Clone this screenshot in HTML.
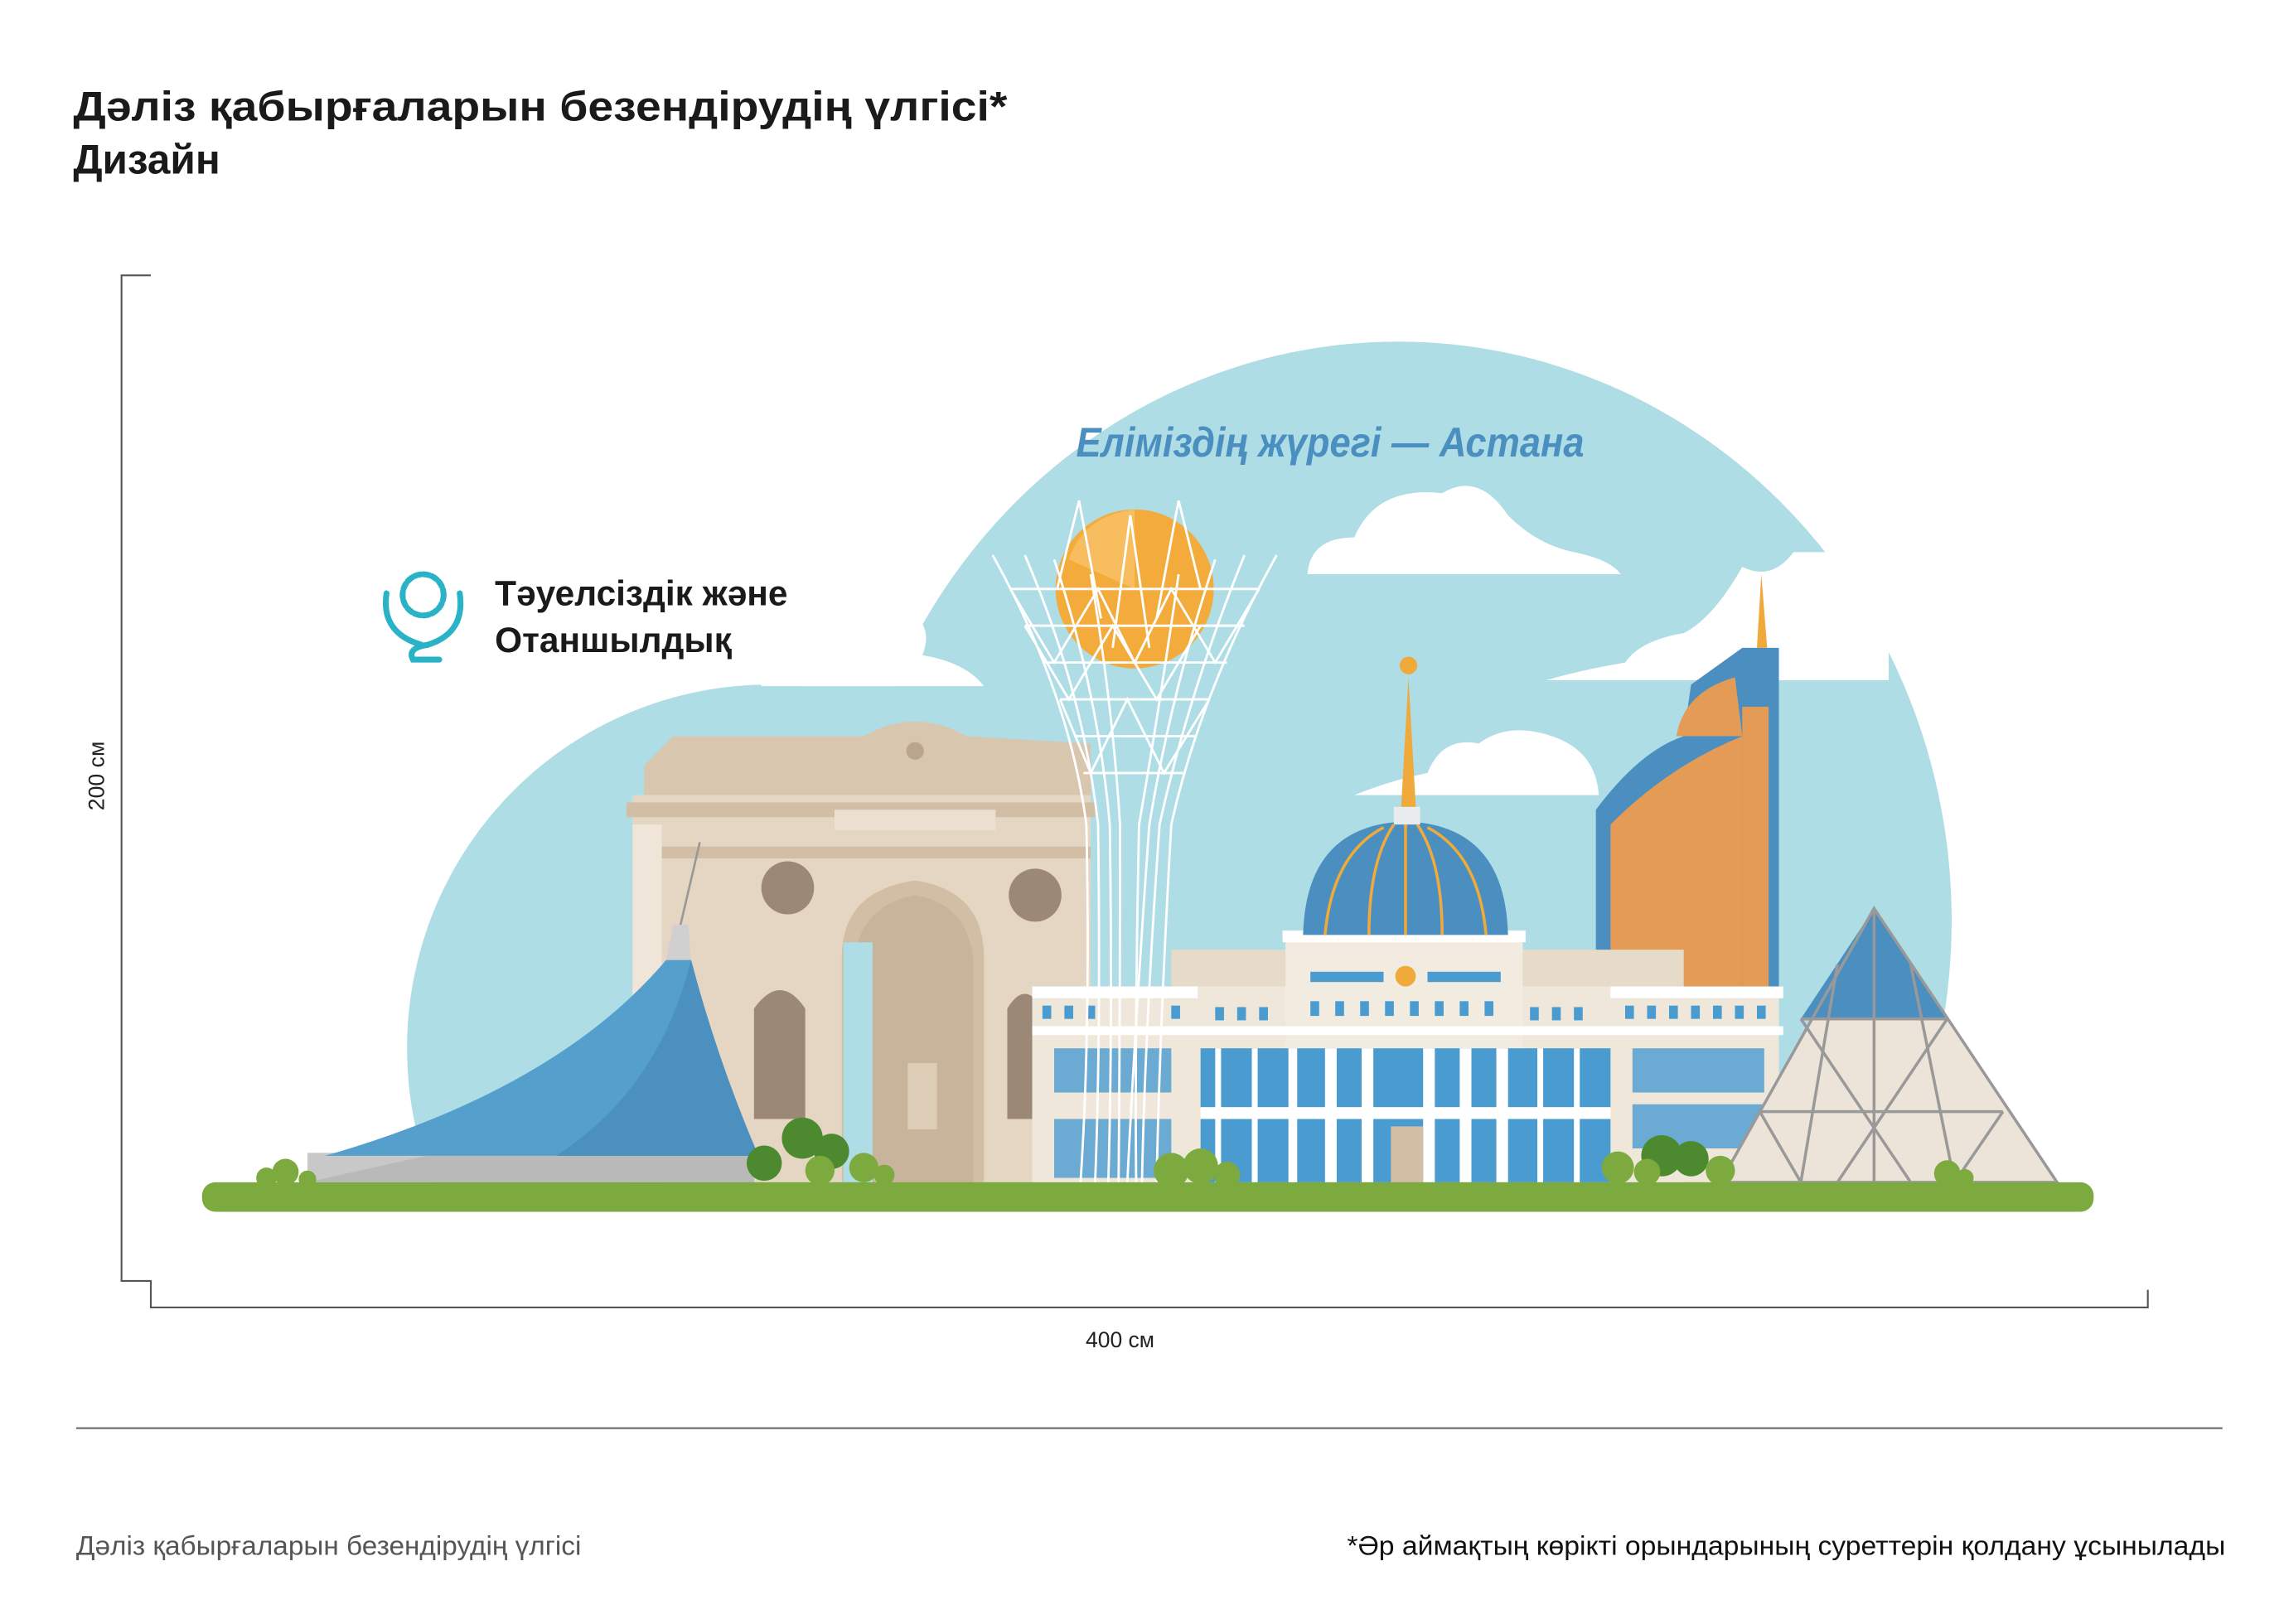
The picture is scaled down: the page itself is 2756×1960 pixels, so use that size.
<!DOCTYPE html>
<html><head><meta charset="utf-8"><style>
html,body{margin:0;padding:0;background:#fff}
svg{display:block}
text{font-family:"Liberation Sans",sans-serif}
</style></head><body>
<svg width="2756" height="1960" viewBox="0 0 1560 1103" preserveAspectRatio="none" xmlns="http://www.w3.org/2000/svg">
<defs><clipPath id="c"><rect x="0" y="0" width="1560" height="805"/></clipPath></defs>
<rect width="1560" height="1103" fill="#fff"/>
<!-- header -->
<text x="50" y="82" font-size="28" font-weight="bold" fill="#1a1a1a" textLength="638" lengthAdjust="spacingAndGlyphs">Дәліз қабырғаларын безендірудің үлгісі*</text>
<text x="50" y="118" font-size="28" font-weight="bold" fill="#1a1a1a">Дизайн</text>
<!-- dimension lines -->
<path d="M103 187 H83 V870 H103 V888 H1467 V876" fill="none" stroke="#555" stroke-width="1.2"/>
<text x="0" y="0" font-size="15" fill="#222" transform="translate(71,527) rotate(-90)" text-anchor="middle">200 см</text>
<text x="765" y="915" font-size="15" fill="#222" text-anchor="middle">400 см</text>
<line x1="52" y1="970" x2="1518" y2="970" stroke="#777" stroke-width="1.3"/>
<text x="52" y="1056" font-size="18.5" fill="#555" textLength="345" lengthAdjust="spacingAndGlyphs">Дәліз қабырғаларын безендірудің үлгісі</text>
<text x="920" y="1056" font-size="18.5" fill="#111" textLength="600" lengthAdjust="spacingAndGlyphs">*Әр аймақтың көрікті орындарының суреттерін қолдану ұсынылады</text>

<!-- sky -->
<g fill="#aedde6" clip-path="url(#c)">
<ellipse cx="955" cy="625" rx="378" ry="393"/>
<circle cx="525" cy="712" r="247"/>
<rect x="1090" y="462" width="195" height="341"/>
<rect x="520" y="466" width="460" height="337"/>
</g>
<!-- clouds -->
<g fill="#fff">
<path d="M560 390 Q600 370 610 410 Q640 420 630 445 Q660 450 672 466 L520 466 L520 390 Z"/>
<path d="M893 390 Q895 365 925 365 Q940 330 985 335 Q1010 320 1030 350 Q1050 370 1075 375 Q1100 380 1107 390 Z"/>
<path d="M1225 375 Q1210 395 1190 385 Q1170 420 1150 430 Q1120 435 1110 450 Q1080 455 1056 462 L1290 462 L1290 375 Z"/>
<path d="M925 540 Q950 530 975 525 Q985 500 1010 505 Q1030 490 1060 500 Q1090 510 1092 540 Z"/>
</g>
<!-- logo -->
<g fill="none" stroke="#2ab3c6" stroke-width="4" stroke-linecap="round">
<circle cx="289" cy="404" r="14" stroke-dasharray="4 2"/>
<path d="M264 403 Q260 430 288 438"/>
<path d="M314 403 Q318 430 292 438 Q278 440 282 448 L300 448"/>
</g>
<text x="338" y="411" font-size="24" font-weight="bold" fill="#1a1a1a">Тәуелсіздік және</text>
<text x="338" y="443" font-size="24" font-weight="bold" fill="#1a1a1a">Отаншылдық</text>
<text x="735" y="310" font-size="28" font-weight="bold" font-style="italic" fill="#4a8fbf" textLength="347" lengthAdjust="spacingAndGlyphs" font-family="Liberation Sans Narrow, Liberation Sans, sans-serif">Еліміздің жүрегі — Астана</text>

<!-- Arch -->
<g>
<path d="M440 520 L460 500 L590 500 Q625 480 660 500 L745 505 L745 540 L440 540 Z" fill="#d8c6ae"/>
<rect x="432" y="540" width="313" height="263" fill="#e4d6c3"/>
<rect x="428" y="545" width="320" height="10" fill="#d2bea4"/>
<rect x="432" y="575" width="313" height="8" fill="#d2bea4"/>
<rect x="432" y="560" width="20" height="243" fill="#efe5d8"/>
<rect x="570" y="550" width="110" height="14" fill="#ebdfcf"/>
<circle cx="625" cy="510" r="6" fill="#b9a58c"/>
<circle cx="538" cy="603" r="18" fill="#9c8877"/>
<circle cx="707" cy="608" r="18" fill="#9c8877"/>
<path d="M575 803 L575 650 Q575 605 625 598 Q672 605 672 650 L672 803 Z" fill="#d2bea4"/>
<path d="M582 803 L582 660 Q585 615 625 608 Q665 615 665 660 L665 803 Z" fill="#c7b49b"/>
<rect x="576" y="640" width="20" height="163" fill="#aedde6"/>
<rect x="620" y="722" width="20" height="45" fill="#ddcdb7"/>
<path d="M515 760 L515 685 Q533 660 550 685 L550 760 Z" fill="#9c8877"/>
<path d="M688 760 L688 685 Q700 665 712 685 L712 760 Z" fill="#9c8877"/>
</g>
<!-- Khan Shatyr -->
<line x1="462" y1="640" x2="478" y2="572" stroke="#999" stroke-width="1.5"/>
<path d="M210 783 L515 783 L515 803 L210 803 Z" fill="#c8c8c8"/>
<path d="M210 803 L300 783 L515 783 L515 803 Z" fill="#b9b9b9"/>
<path d="M222 785 Q380 740 455 652 L472 652 Q490 720 518 785 Z" fill="#559fcc"/>
<path d="M380 785 Q450 740 472 652 Q490 720 518 785 Z" fill="#4b90bf"/>
<path d="M455 652 L460 628 L470 628 L472 652 Z" fill="#d0d0d0"/>
<!-- Orange tower -->
<path d="M1090 803 L1090 550 Q1120 510 1150 500 L1155 465 L1190 440 L1215 440 L1215 803 Z" fill="#4a8fbf"/>
<path d="M1100 803 L1100 560 Q1140 520 1190 500 L1190 803 Z" fill="#e39b55"/>
<path d="M1145 500 Q1150 470 1185 460 L1190 500 Z" fill="#e39b55"/>
<rect x="1190" y="480" width="22" height="323" fill="#e39b55"/>
<rect x="1208" y="450" width="5" height="353" fill="#4a8fbf"/>
<path d="M1200 440 L1203 390 L1207 440 Z" fill="#f0aa3c"/>
<!-- Palace -->
<rect x="800" y="645" width="350" height="158" fill="#e6dac8"/>
<rect x="705" y="670" width="510" height="133" fill="#efe7da"/>
<rect x="878" y="635" width="162" height="168" fill="#f2ebe0"/>
<rect x="876" y="632" width="166" height="8" fill="#fff"/>
<path d="M890 635 Q892 560 960 558 Q1028 560 1030 635 Z" fill="#4a8fbf"/>
<g stroke="#f0aa3c" stroke-width="2" fill="none">
<path d="M905 635 Q910 580 945 562"/><path d="M935 635 Q935 585 952 560"/><path d="M960 635 L960 558"/><path d="M985 635 Q985 585 968 560"/><path d="M1015 635 Q1010 580 975 562"/>
</g>
<rect x="952" y="548" width="18" height="12" fill="#e8ecee"/>
<path d="M957 548 L962 460 L967 548 Z" fill="#f0aa3c"/>
<circle cx="962" cy="452" r="6" fill="#f0aa3c"/>
<rect x="895" y="660" width="50" height="7" fill="#4a9bd0"/>
<rect x="975" y="660" width="50" height="7" fill="#4a9bd0"/>
<circle cx="960" cy="663" r="7" fill="#f0aa3c"/>
<rect x="705" y="670" width="113" height="8" fill="#fff"/>
<rect x="1100" y="670" width="118" height="8" fill="#fff"/>
<rect x="705" y="697" width="513" height="6" fill="#fff"/>
<g fill="#4a9bd0">
<rect x="895" y="680" width="6" height="10"/><rect x="912" y="680" width="6" height="10"/><rect x="929" y="680" width="6" height="10"/><rect x="946" y="680" width="6" height="10"/><rect x="963" y="680" width="6" height="10"/><rect x="980" y="680" width="6" height="10"/><rect x="997" y="680" width="6" height="10"/><rect x="1014" y="680" width="6" height="10"/>
<rect x="830" y="684" width="6" height="9"/><rect x="845" y="684" width="6" height="9"/><rect x="860" y="684" width="6" height="9"/>
<rect x="1045" y="684" width="6" height="9"/><rect x="1060" y="684" width="6" height="9"/><rect x="1075" y="684" width="6" height="9"/>
<rect x="1110" y="683" width="6" height="9"/><rect x="1125" y="683" width="6" height="9"/><rect x="1140" y="683" width="6" height="9"/><rect x="1155" y="683" width="6" height="9"/><rect x="1170" y="683" width="6" height="9"/><rect x="1185" y="683" width="6" height="9"/><rect x="1200" y="683" width="6" height="9"/>
<rect x="712" y="683" width="6" height="9"/><rect x="727" y="683" width="6" height="9"/><rect x="742" y="683" width="6" height="9"/><rect x="800" y="683" width="6" height="9"/>
<rect x="820" y="712" width="280" height="40"/>
<rect x="820" y="760" width="280" height="43"/>
<rect x="1115" y="712" width="90" height="30" opacity=".8"/>
<rect x="1115" y="750" width="90" height="30" opacity=".8"/>
<rect x="720" y="712" width="80" height="30" opacity=".8"/>
<rect x="720" y="760" width="80" height="40" opacity=".8"/>
</g>
<g fill="#fff">
<rect x="830" y="712" width="4" height="91"/><rect x="855" y="712" width="4" height="91"/><rect x="880" y="712" width="6" height="91"/><rect x="905" y="712" width="8" height="91"/><rect x="930" y="712" width="8" height="91"/><rect x="972" y="712" width="8" height="91"/><rect x="997" y="712" width="8" height="91"/><rect x="1022" y="712" width="8" height="91"/><rect x="1050" y="712" width="4" height="91"/><rect x="1075" y="712" width="4" height="91"/>
<rect x="820" y="752" width="280" height="8"/>
</g>
<rect x="950" y="765" width="22" height="38" fill="#d2bea4"/>
<!-- Pyramid -->
<path d="M1175 803 L1280 617 L1405 803 Z" fill="#ece4d9"/>
<path d="M1230 692 L1280 617 L1330 692 Z" fill="#4a8fbf"/>
<g stroke="#999" stroke-width="2" fill="none">
<path d="M1175 803 L1280 617 L1405 803 Z"/>
<path d="M1230 692 L1330 692 M1202 755 L1368 755"/>
<path d="M1255 655 L1230 803 M1305 655 L1335 803 M1280 617 L1280 803 M1230 692 L1305 803 M1330 692 L1255 803 M1202 755 L1230 803 M1368 755 L1335 803"/>
</g>
<!-- Baiterek -->
<circle cx="775" cy="400" r="54" fill="#f3ab3c"/>
<path d="M730 380 Q740 350 775 346 L775 400 Z" fill="#f8c46d" opacity=".7"/>
<g stroke="#fff" stroke-width="1.6" fill="none">
<path d="M678 377 Q730 470 742 560 Q745 700 738 803"/>
<path d="M872 377 Q820 470 800 560 Q792 700 790 803"/>
<path d="M700 377 Q740 470 750 560 Q752 700 748 803"/>
<path d="M850 377 Q812 470 792 560 Q782 700 780 803"/>
<path d="M720 380 Q750 470 758 560 Q760 700 757 803"/>
<path d="M830 380 Q800 470 785 560 Q775 700 770 803"/>
<path d="M745 390 Q760 480 765 560 Q765 700 764 803"/>
<path d="M805 390 Q792 480 778 560 Q775 700 776 803"/>
<path d="M690 400 L860 400 M700 425 L850 425 M712 450 L838 450 M724 475 L826 475 M734 500 L816 500 M740 525 L808 525"/>
<path d="M690 400 L720 450 L750 400 L775 450 L800 400 L830 450 L860 400 M700 425 L730 475 L760 425 L790 475 L820 425 L850 425 M724 475 L745 525 L770 475 L795 525 L826 475"/>
<path d="M722 400 L737 340 L752 420 M790 420 L805 340 L820 400 M760 440 L772 350 L785 440"/>
</g>
<!-- bushes -->
<g>
<circle cx="522" cy="790" r="12" fill="#4d8a2f"/><circle cx="548" cy="773" r="14" fill="#4d8a2f"/><circle cx="568" cy="782" r="12" fill="#4d8a2f"/><circle cx="560" cy="795" r="10" fill="#7daa3e"/><circle cx="590" cy="793" r="10" fill="#7daa3e"/><circle cx="604" cy="798" r="7" fill="#7daa3e"/>
<circle cx="800" cy="795" r="12" fill="#7daa3e"/><circle cx="820" cy="792" r="12" fill="#7daa3e"/><circle cx="838" cy="798" r="9" fill="#7daa3e"/>
<circle cx="1135" cy="785" r="14" fill="#4d8a2f"/><circle cx="1155" cy="787" r="12" fill="#4d8a2f"/><circle cx="1105" cy="793" r="11" fill="#7daa3e"/><circle cx="1125" cy="796" r="9" fill="#7daa3e"/><circle cx="1175" cy="795" r="10" fill="#7daa3e"/>
<circle cx="195" cy="796" r="9" fill="#7daa3e"/><circle cx="182" cy="800" r="7" fill="#7daa3e"/><circle cx="210" cy="801" r="6" fill="#7daa3e"/>
<circle cx="1330" cy="797" r="9" fill="#7daa3e"/><circle cx="1342" cy="800" r="6" fill="#7daa3e"/>
</g>
<rect x="138" y="803" width="1292" height="20" rx="9" fill="#7daa3e"/>
</svg>
</body></html>
